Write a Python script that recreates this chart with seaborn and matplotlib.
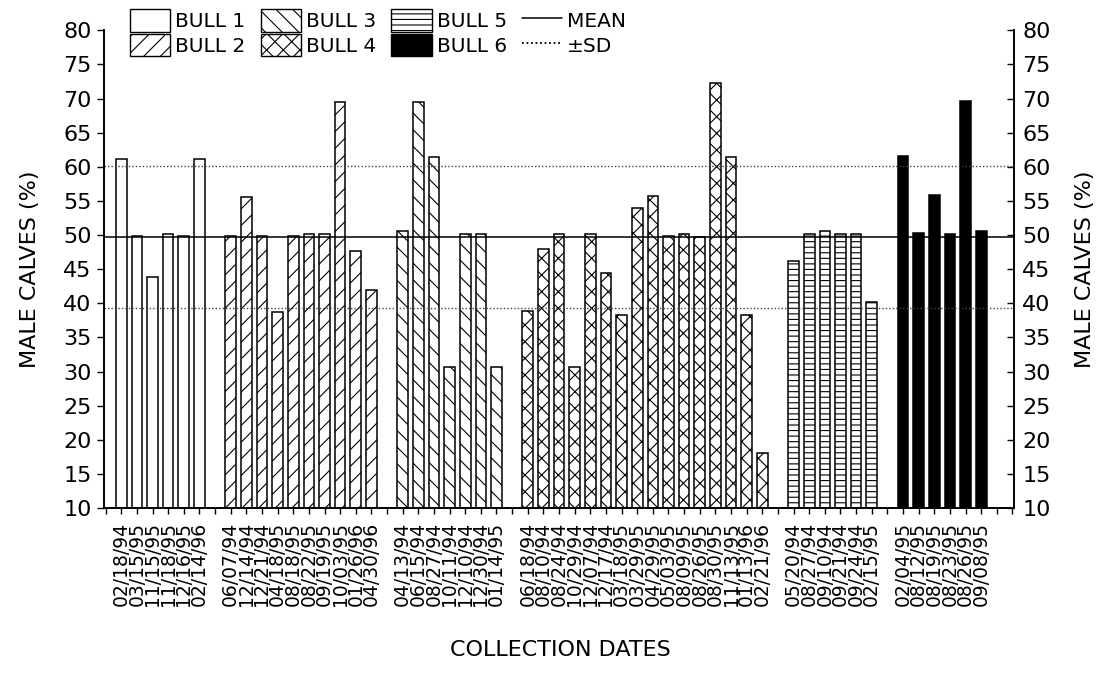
import numpy as np
import pandas as pd
import matplotlib
matplotlib.use("Agg")
import matplotlib.pyplot as plt
import seaborn as sns
from matplotlib.patches import Patch
from matplotlib.lines import Line2D

# ---------------- data ----------------
bulls = ["BULL 1", "BULL 2", "BULL 3", "BULL 4", "BULL 5", "BULL 6"]

b1_dates = ["02/18/94", "03/15/95", "11/15/95", "11/18/95", "12/16/95", "02/14/96"]
b1_vals = [61.2, 49.9, 43.8, 50.2, 49.8, 61.2]

b2_dates = ["06/07/94", "12/14/94", "12/21/94", "04/18/95", "08/18/95",
            "08/22/95", "09/19/95", "10/03/95", "01/26/96", "04/30/96"]
b2_vals = [49.9, 55.6, 49.9, 38.7, 49.9, 50.1, 50.2, 69.5, 47.7, 41.9]

b3_dates = ["04/13/94", "06/15/94", "08/27/94", "10/11/94", "12/10/94",
            "12/30/94", "01/14/95"]
b3_vals = [50.6, 69.5, 61.4, 30.7, 50.2, 50.2, 30.7]

b4_dates = ["06/18/94", "08/10/94", "08/24/94", "10/29/94", "12/07/94",
            "12/17/94", "03/18/95", "03/29/95", "04/29/95", "05/03/95",
            "08/09/95", "08/26/95", "08/30/95", "11/13/95", "01/13/96", "02/21/96"]
b4_vals = [38.8, 47.9, 50.1, 30.7, 50.1, 44.4, 38.3, 53.9, 55.7, 49.8,
           50.2, 49.7, 72.3, 61.5, 38.3, 18.0]

b5_dates = ["05/20/94", "08/27/94", "09/10/94", "09/21/94", "09/24/94", "02/15/95"]
b5_vals = [46.2, 50.1, 50.6, 50.1, 50.1, 40.2]

b6_dates = ["02/04/95", "08/12/95", "08/19/95", "08/23/95", "08/26/95", "09/08/95"]
b6_vals = [61.6, 50.3, 55.9, 50.1, 69.7, 50.6]

mean_pct = 49.7
sd_pct = 10.4

y_ticks = list(range(10, 81, 5))

# ---------------- styling ----------------
sns.set_theme(style="ticks")
plt.rcParams["font.family"] = ["DejaVu Sans"]
plt.rcParams["hatch.linewidth"] = 0.8
plt.rcParams["hatch.color"] = "black"
for k in ["text.color", "axes.labelcolor", "xtick.color", "ytick.color",
          "axes.edgecolor"]:
    plt.rcParams[k] = "black"

groups = [
    (b1_dates, b1_vals, "", "white"),
    (b2_dates, b2_vals, "//", "white"),
    (b3_dates, b3_vals, "\\\\", "white"),
    (b4_dates, b4_vals, "xx", "white"),
    (b5_dates, b5_vals, "---", "white"),
    (b6_dates, b6_vals, "", "black"),
]

fig = plt.figure(figsize=(11.01, 6.88), dpi=100)
ax = fig.add_axes([0.0945, 0.2616, 0.8265, 0.6944])

# slot positions: one empty slot between bulls
tick_labels = {}
start = 0
for dates, vals, hatch, col in groups:
    pos = np.arange(start, start + len(vals))
    df = pd.DataFrame({"pos": pos, "val": vals})
    sns.barplot(data=df, x="pos", y="val", native_scale=True, width=0.68,
                color=col, edgecolor="black", linewidth=1.1, hatch=hatch,
                errorbar=None, ax=ax, saturation=1)
    for p, d in zip(pos, dates):
        tick_labels[int(p)] = d
    start += len(vals) + 1

# mean and sd lines
ax.axhline(mean_pct, color="black", lw=1.1, zorder=3)
ax.axhline(mean_pct + sd_pct, color="#444444", lw=1.0, ls=(0, (1, 1.5)), zorder=3)
ax.axhline(mean_pct - sd_pct, color="#444444", lw=1.0, ls=(0, (1, 1.5)), zorder=3)

ax.set_ylim(10, 80)
ax.set_xlim(-1.1, 57.1)
xt = np.arange(-1, 58)
ax.set_xticks(xt)
ax.set_xticklabels([tick_labels.get(int(t), "") for t in xt], rotation=90,
                   fontsize=13.5)
ax.set_yticks(y_ticks)
ax.set_yticklabels([str(v) for v in y_ticks], fontsize=16)
ax.tick_params(axis="x", direction="out", length=4, width=1, pad=6,
               colors="black")
ax.tick_params(axis="y", direction="out", length=5, width=1, pad=4,
               colors="black")
ax.set_xlabel("")
ax.set_ylabel("")
ax.spines["top"].set_visible(False)
for s in ["left", "bottom", "right"]:
    ax.spines[s].set_linewidth(1.2)
    ax.spines[s].set_color("black")

ax2 = ax.twinx()
ax2.set_ylim(10, 80)
ax2.set_yticks(y_ticks)
ax2.set_yticklabels([str(v) for v in y_ticks], fontsize=16)
ax2.tick_params(axis="y", direction="in", length=5, width=1, pad=6,
                colors="black")
ax2.spines["top"].set_visible(False)
ax2.spines["right"].set_linewidth(1.2)
ax2.spines["right"].set_color("black")
ax2.grid(False)

fig.text(30 / 1101, 0.609, "MALE CALVES (%)", rotation=90, ha="center",
         va="center", fontsize=16, color="black")
fig.text(1085 / 1101, 0.609, "MALE CALVES (%)", rotation=90, ha="center",
         va="center", fontsize=16, color="black")
fig.text(0.509, 0.055, "COLLECTION DATES", ha="center", va="center",
         fontsize=16, color="black")

# legend
handles = []
for (dates, vals, hatch, col), name in zip(groups, bulls):
    handles.append(Patch(facecolor=col, edgecolor="black", hatch=hatch,
                         linewidth=1.0, label=name))
handles.append(Line2D([], [], color="black", lw=1.1, label="MEAN"))
handles.append(Line2D([], [], color="black", lw=1.3, ls=(0, (1, 1.5)),
                      label="\u00b1SD"))
leg = fig.legend(handles=handles, ncol=4, loc="upper left",
                 bbox_to_anchor=(130 / 1101, 1 - 9 / 688), frameon=False,
                 fontsize=14.5, handlelength=2.0, handleheight=1.35,
                 handletextpad=0.25, columnspacing=0.75, labelspacing=0.1,
                 borderpad=0, borderaxespad=0)
for t in leg.get_texts():
    t.set_color("black")

fig.savefig("out.png", dpi=100, facecolor="white")
